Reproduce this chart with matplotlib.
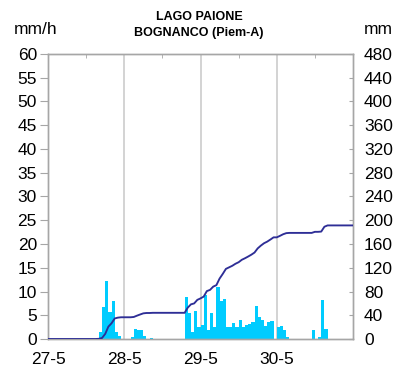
import matplotlib
matplotlib.use("Agg")
import matplotlib.pyplot as plt
import numpy as np

plt.rcParams['font.family'] = ['Liberation Sans', 'DejaVu Sans']

# Hourly rainfall (mm/h), hours counted from 27-5 00:00
rain_hours = [15, 16, 17, 18, 19, 20, 21, 22,
              26, 27, 28, 29, 30, 32,
              43, 44, 45, 46, 47, 48, 49, 50, 51, 52, 53, 54, 55,
              56, 57, 58, 59, 60, 61, 62, 63, 64, 65, 66, 67, 68, 69, 70,
              72, 73, 74, 75,
              83, 85, 86, 87]
rain_mmh = [0.3, 1.4, 6.8, 12.3, 5.7, 8.1, 1.4, 0.6,
            0.5, 2.2, 2.0, 1.9, 0.6, 0.3,
            8.8, 5.5, 1.5, 6.0, 2.5, 3.0, 9.3, 2.0, 5.5, 2.5, 11.0, 7.9, 8.5,
            2.6, 2.6, 3.4, 2.6, 4.1, 2.6, 2.9, 3.1, 3.6, 7.0, 4.7, 4.0, 2.7, 3.5, 3.7,
            2.5, 2.7, 1.9, 0.4,
            1.8, 0.4, 8.2, 2.2]

day_ticks = [0, 24, 48, 72]
day_labels = ['27-5', '28-5', '29-5', '30-5']
left_ticks = list(range(0, 61, 5))
right_ticks = list(range(0, 481, 40))

n_hours = 96
hourly = np.zeros(n_hours)
for h, v in zip(rain_hours, rain_mmh):
    hourly[h] = v
cum_x = np.arange(n_hours + 1)
cum_y = np.concatenate([[0.0], np.cumsum(hourly)])

fig = plt.figure(figsize=(4.03, 3.74), dpi=100)
ax = fig.add_axes([48 / 403, 1 - 339 / 374, 305 / 403, 285 / 374])

grey = '#A6A6A6'
for d in day_ticks[1:]:
    ax.axvline(d, color='#D0D0D0', lw=1.3, zorder=0)

ax.bar(np.arange(n_hours), hourly, width=1.0, align='edge',
       color='#00CCFF', edgecolor='none', zorder=2)

ax.set_xlim(0, n_hours)
ax.set_ylim(0, 60)
ax.set_yticks(left_ticks)
ax.set_xticks(day_ticks)
ax.set_xticklabels(day_labels)
ax.tick_params(axis='y', direction='out', length=6, color=grey, labelsize=12.5, pad=2)
ax.tick_params(axis='x', direction='out', length=0, labelsize=12.5, pad=9)
ax.set_xticks(np.arange(0, 97, 12), minor=True)
ax.tick_params(axis='x', which='minor', top=True, bottom=False, direction='in',
               length=3, color=grey)
for s in ax.spines.values():
    s.set_color(grey)
    s.set_linewidth(1.0)

ax2 = ax.twinx()
ax2.plot(cum_x, cum_y, color='#2E2E96', lw=1.35, zorder=3)
ax2.set_ylim(0, 480)
ax2.set_yticks(right_ticks)
ax2.tick_params(axis='y', direction='in', length=3, color=grey, labelsize=12.5, pad=8)
for s in ax2.spines.values():
    s.set_color(grey)
    s.set_linewidth(1.0)

fig.text(14 / 403, 1 - 30 / 374, 'mm/h', fontsize=12.5, ha='left', va='center')
fig.text(364 / 403, 1 - 30 / 374, 'mm', fontsize=12.5, ha='left', va='center')
fig.text(199 / 403, 1 - 17 / 374, 'LAGO PAIONE', fontsize=9, fontweight='bold',
         ha='center', va='center')
fig.text(199 / 403, 1 - 33 / 374, 'BOGNANCO (Piem-A)', fontsize=9, fontweight='bold',
         ha='center', va='center')

fig.savefig('out.png', dpi=100)
